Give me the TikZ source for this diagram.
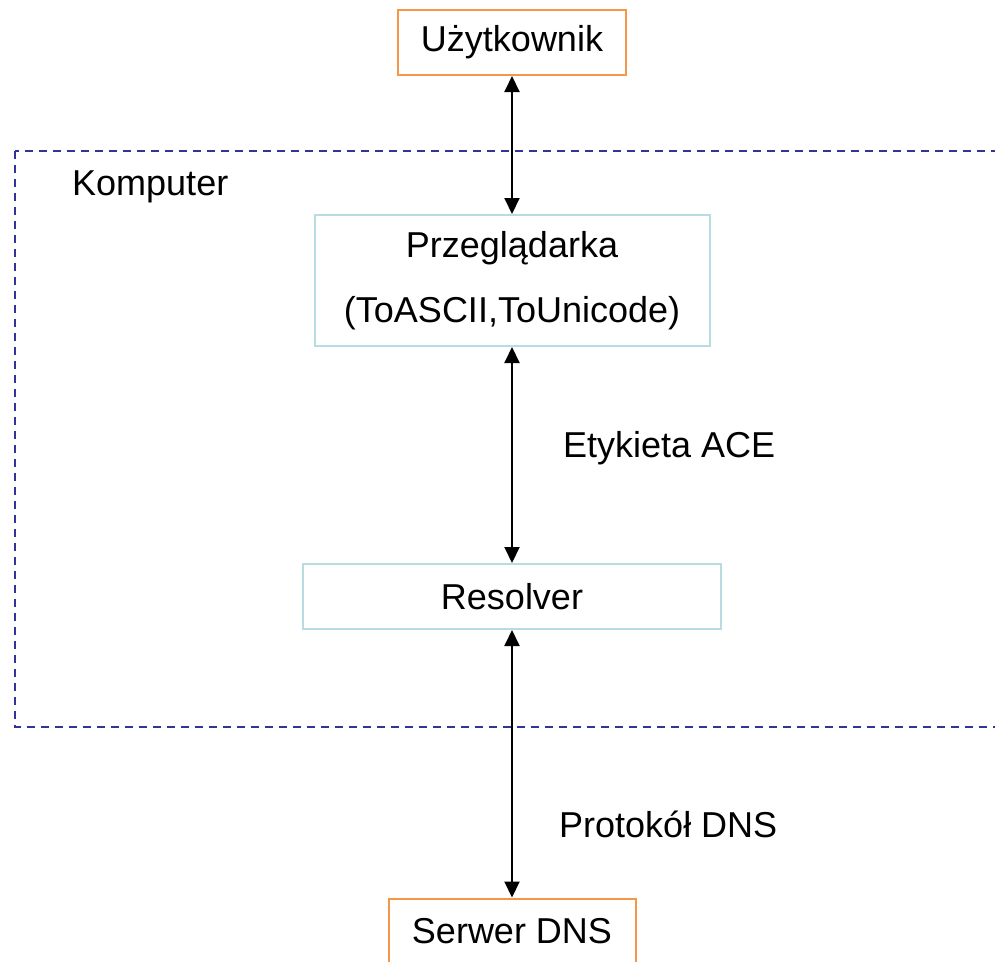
\documentclass[tikz,border=0pt]{standalone}
\usepackage{fontspec}
\setmainfont{Liberation Sans}
\usetikzlibrary{arrows.meta}
\definecolor{orangeline}{RGB}{247,150,70}
\definecolor{cyanline}{RGB}{183,221,226}
\definecolor{dashline}{RGB}{51,51,153}

\begin{document}
\begin{tikzpicture}[x=1pt, y=-1pt,
  big/.style = {font=\fontsize{36}{65}\selectfont},
  ends/.style = {draw=orangeline, line width=2pt, big, minimum width=228pt, minimum height=65pt},
  parts/.style = {draw=cyanline, line width=2pt, big, align=center},
  link/.style = {arrows={Triangle[width=15pt,length=16pt]-Triangle[width=15pt,length=16pt]}, line width=2pt},
  tag/.style = {big, inner sep=0pt, anchor=base west}]
\useasboundingbox (0,0) rectangle (995,961);

%computer
\draw[dashline, line width=2pt, dash pattern=on 8pt off 6pt] (15,151) rectangle (1030,727);
\node[tag] (pc) at (72,195) {Komputer};

%boxes
\node[ends] (user) at (512,42.5) {Użytkownik};
\node[parts, minimum width=395pt, minimum height=131pt] (browser) at (512,280.5) {Przeglądarka\\(ToASCII,ToUnicode)};
\node[parts, minimum width=418pt, minimum height=65pt] (resolver) at (512,596.5) {Resolver};
\node[ends, minimum width=247pt] (server) at (512,931) {Serwer DNS};

%labels
\node[tag] (ace) at (563,457) {Etykieta ACE};
\node[tag] (dns) at (559,837) {Protokół DNS};

\draw[link] (user) -- (browser);
\draw[link] (browser) -- (resolver);
\draw[link] (resolver) -- (server);
\end{tikzpicture}
\end{document}
